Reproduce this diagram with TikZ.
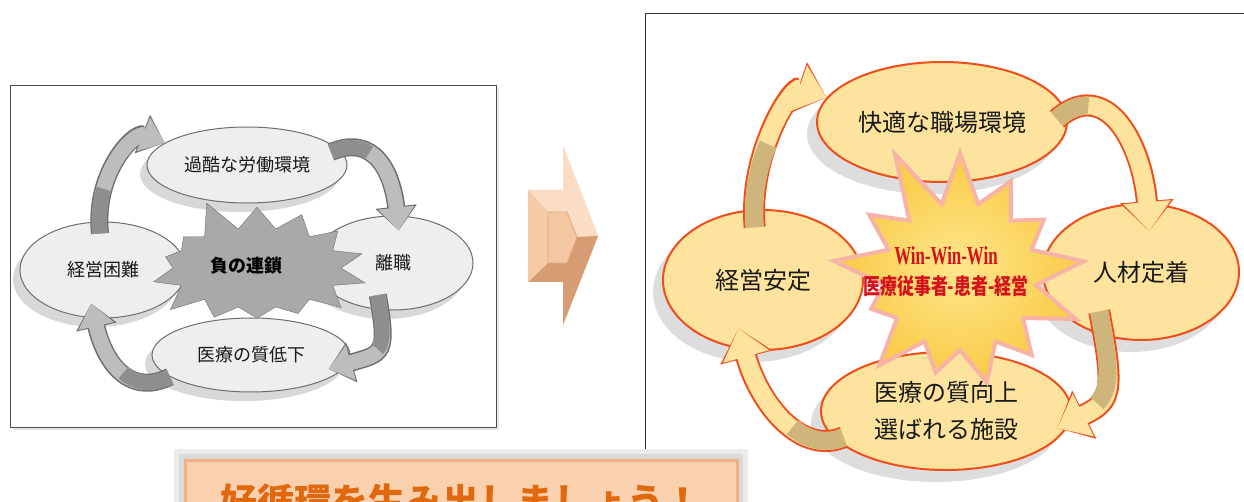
\documentclass[tikz,border=0pt]{standalone}
\usepackage{fontspec}
\usepackage{graphicx}
\usetikzlibrary{shapes.geometric,shapes.symbols,arrows.meta,shadows}
\newfontfamily\jp{Noto Sans CJK JP}
\newfontfamily\winfont{Liberation Serif}
\definecolor{grayline}{HTML}{6E6E6E}
\definecolor{grayfill}{HTML}{EEEEEE}
\definecolor{grayarrowfill}{HTML}{BDBDBD}
\definecolor{grayarrowdark}{HTML}{8E8E8E}
\definecolor{graystar}{HTML}{A9A9A9}
\definecolor{ringred}{HTML}{EE4E1C}
\definecolor{ringfill}{HTML}{FDE39D}
\definecolor{ringtan}{HTML}{CDB57C}
\definecolor{starin}{HTML}{FEE68C}
\definecolor{starout}{HTML}{F9CA45}
\definecolor{starglow}{HTML}{F7B3A8}
\definecolor{winred}{HTML}{D3121C}
\definecolor{bannerfill}{HTML}{F9D1AE}
\definecolor{bannerglow}{HTML}{F2B184}
\definecolor{bannertext}{HTML}{E0690F}
\definecolor{peachlight}{HTML}{FADDC4}
\definecolor{peach}{HTML}{F3C7A2}
\definecolor{peachdark}{HTML}{D89C74}

\begin{document}
\begin{tikzpicture}[x=1pt,y=-1pt,
    gray node/.style={ellipse,draw=grayline,fill=grayfill,line width=1pt,inner sep=0pt,
      font=\jp\fontsize{18}{22}\selectfont,text=black!90,
      drop shadow={shadow xshift=-7pt,shadow yshift=-9pt,opacity=.25,fill=black!60}},
    warm node/.style={ellipse,draw=ringred,fill=ringfill,line width=2pt,inner sep=0pt,align=center,
      font=\jp\fontsize{24}{37}\selectfont,text=black!90,
      drop shadow={shadow xshift=-10pt,shadow yshift=-12pt,opacity=.22,fill=black!60}},
    grayarrow/.style={line width=18pt,draw=grayline,-{Triangle[length=24pt,width=40pt]},
      postaction={draw=grayarrowfill,line width=15pt,-{Triangle[length=23pt,width=35pt]}},
      postaction={draw=grayarrowdark,line width=15pt,arrows=-,dash pattern=on #1 off 3000pt}},
    warmarrow/.style={line width=22pt,draw=ringred,-{Triangle[length=30pt,width=52pt]},
      postaction={draw=ringfill,line width=18pt,-{Triangle[length=29pt,width=46pt]}},
      postaction={draw=ringtan,line width=18pt,arrows=-,dash pattern=on #1 off 3000pt}}]
\clip (0,0) rectangle (1244,502);

% vicious circle
\node[draw=black!70,fill=white,minimum width=486pt,minimum height=342pt,
  drop shadow={shadow xshift=3pt,shadow yshift=-3pt,opacity=.2}] (negpanel) at (253,256) {};
\node[gray node,minimum width=200pt,minimum height=76pt] (LT) at (247,165) {過酷な労働環境};
\node[gray node,minimum width=166pt,minimum height=96pt] (LL) at (103,270) {経営困難};
\node[gray node,minimum width=160pt,minimum height=94pt] (LR) at (393,263) {離職};
\node[gray node,minimum width=198pt,minimum height=74pt] (LB) at (251,355) {医療の質低下};
\node[starburst,starburst points=14,starburst point height=34pt,random starburst=5,
  fill=graystar,draw=grayline,minimum width=236pt,minimum height=148pt,inner sep=0pt] (LS) at (257,268) {};
\node[font=\jp\bfseries\fontsize{18}{22}\selectfont] (LStext) at (246,266) {負の連鎖};

\draw[grayarrow=45pt,shorten <=-12pt] (LL.95) .. controls +(-5,-50) and +(-30,-12) .. (LT.165);
\draw[grayarrow=40pt,shorten <=-8pt,shorten >=-15pt] (LT.10) .. controls +(35,-15) and +(-5,-45) .. (LR.85);
\draw[grayarrow=55pt,shorten <=-15pt,shorten >=-20pt] (LR.-105) .. controls +(8,45) and +(35,-10) .. (LB.-5);
\draw[grayarrow=50pt,shorten >=-15pt] (LB.-165) .. controls +(-40,20) and +(10,45) .. (LL.-100);

% change arrow
\fill[peach] (528,190) -- (563,190) -- (563,146) -- (598,236) -- (563,325) -- (563,282) -- (528,282) -- cycle;
\fill[peachlight] (528,190) -- (563,190) -- (563,146) -- (598,236) -- (577,237) -- (567,212) -- (548,212) -- cycle;
\fill[peachdark] (528,282) -- (563,282) -- (563,325) -- (598,236) -- (577,237) -- (567,263) -- (548,263) -- cycle;
\fill[peach!85!peachlight] (528,190) -- (548,212) -- (548,263) -- (528,282) -- cycle;
\filldraw[fill=peach,draw=peachdark!70!peach,line width=.8pt] (548,212) -- (567,212) -- (577,237) -- (567,263) -- (548,263) -- cycle;

% virtuous circle
\draw[black!80] (645,502) |- (1244,13);
\node[warm node,minimum width=250pt,minimum height=120pt] (RT) at (942,122) {快適な職場環境};
\node[warm node,minimum width=200pt,minimum height=140pt] (RL) at (763,280) {経営安定};
\node[warm node,minimum width=196pt,minimum height=136pt] (RR) at (1141,272) {人材定着};
\node[warm node,minimum width=250pt,minimum height=118pt] (RB) at (946,411) {医療の質向上\\選ばれる施設};
\node[starburst,starburst points=13,starburst point height=66pt,random starburst=11,
  draw=starglow,line width=4pt,inner color=starin,outer color=starout,
  minimum width=285pt,minimum height=280pt,inner sep=0pt] (RS) at (960,276) {};
\node[align=center,text=winred,font=\fontsize{22}{30}\selectfont] (RStext) at (946,272)
  {\scalebox{.65}[1]{\winfont\bfseries\fontsize{26}{30}\selectfont Win-Win-Win}\\
   \scalebox{.77}[1]{\jp\bfseries 医療従事者-患者-経営}};

\draw[warmarrow=85pt,shorten <=-18pt] (RL.98) .. controls +(-5,-55) and +(-35,-12) .. (RT.168);
\draw[warmarrow=35pt,shorten <=-12pt,shorten >=-28pt] (RT.5) .. controls +(40,-35) and +(-5,-60) .. (RR.85);
\draw[warmarrow=95pt,shorten <=-25pt,shorten >=-14pt] (RR.-120) .. controls +(12,60) and +(40,-20) .. (RB.-5);
\draw[warmarrow=55pt,shorten <=-8pt,shorten >=-22pt] (RB.-165) .. controls +(-35,15) and +(15,55) .. (RL.-105);

% call to action
\node[fill=bannerfill,draw=bannerglow,line width=3pt,minimum width=552pt,minimum height=84pt,
  preaction={draw=black!8,line width=22pt},preaction={draw=black!15,line width=12pt},
  text=bannertext,font=\jp\bfseries\fontsize{37}{40}\selectfont] (cta) at (461,502) {好循環を生み出しましょう！};
\end{tikzpicture}
\end{document}
